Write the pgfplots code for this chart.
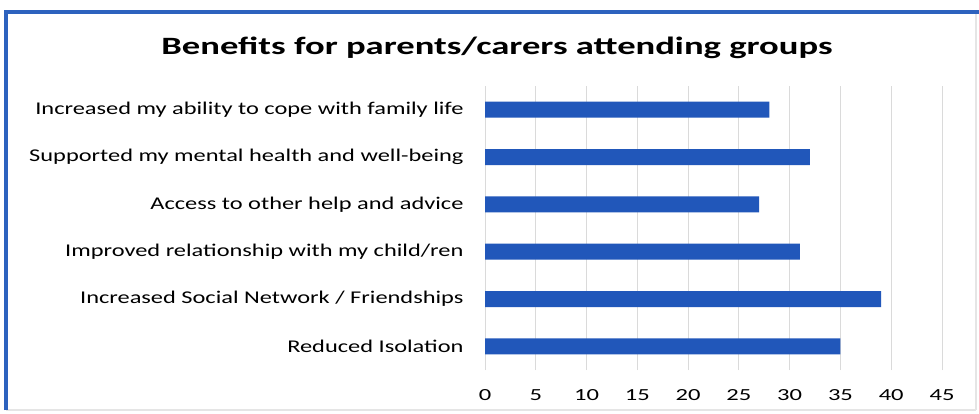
\documentclass[border=0pt]{standalone}
\usepackage{pgfplots}
\pgfplotsset{compat=1.18}
\usepackage{fontspec}
\setmainfont{Carlito}
\definecolor{barblue}{HTML}{2157BA}
\definecolor{frameblue}{HTML}{2D62BE}
\definecolor{gridgray}{HTML}{DADADA}
\newcommand\lb[1]{\scalebox{1.36}[1]{#1}}
\begin{document}
\begin{tikzpicture}[x=1bp,y=1bp]
\useasboundingbox (0,0) rectangle (979,413);
\fill[white] (0,0) rectangle (979,413);
\draw[gridgray!70,line width=1.5bp] (976,3) -- (976,401);
\draw[gridgray!70,line width=1.5bp] (6,3) -- (976,3);
\draw[frameblue,line width=4bp] (6,3) -- (6,401) -- (979,401);
\node[font=\bfseries\fontsize{25}{29}\selectfont] at (497,365) {\scalebox{1.47}[1]{Benefits for parents/carers attending groups}};
\begin{axis}[
  at={(485bp,43bp)}, anchor=south west,
  scale only axis, width=457bp, height=284bp,
  xbar, bar width=16bp,
  xmin=0, xmax=45, ymin=-0.5, ymax=5.5,
  xtick={0,5,...,45},
  ytick={0,1,2,3,4,5},
  yticklabels={\lb{Reduced Isolation}, \lb{Increased Social Network / Friendships}, \lb{Improved relationship with my child/ren}, \lb{Access to other help and advice}, \lb{Supported my mental health and well-being}, \lb{Increased my ability to cope with family life}},
  xticklabel={\scalebox{1.45}[1]{\pgfmathprintnumber[assume math mode=true]{\tick}}},
  xmajorgrids, grid style={gridgray, line width=0.8bp},
  axis line style={draw=none},
  major tick length=0pt,
  xticklabel style={font=\fontsize{17}{19}\selectfont, yshift=-16bp},
  yticklabel style={font=\fontsize{18}{21}\selectfont, xshift=-18bp},
]
\addplot[fill=barblue, draw=none] coordinates {(35,0) (39,1) (31,2) (27,3) (32,4) (28,5)};
\end{axis}
\end{tikzpicture}
\end{document}
